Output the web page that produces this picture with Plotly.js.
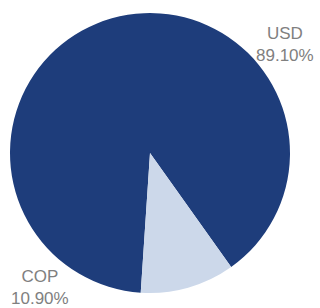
<!DOCTYPE html>
<html>
<head>
<meta charset="utf-8">
<script src="https://cdn.plot.ly/plotly-3.0.1.min.js"></script>
<style>html,body{margin:0;padding:0;background:#fff;}#chart{width:320px;height:308px;}</style>
</head>
<body>
<div id="chart"></div>
<script>
const currencies = ["USD", "COP"];
const shares = [89.10, 10.90];
const sliceColors = ["#1e3d7b", "#ccd8ea"];
const labelPos = [[0.982, 0.889], [0.107, 0.020]];

const annotations = currencies.map((c, i) => ({
  xref: "paper", yref: "paper",
  x: labelPos[i][0], y: labelPos[i][1],
  xanchor: "center", yanchor: "middle",
  text: c + "<br>" + shares[i].toFixed(2) + "%",
  showarrow: false,
  font: {family: "Liberation Sans, Arial, sans-serif", size: 17, color: "#808080"}
}));

Plotly.newPlot("chart", [{
  type: "pie",
  labels: currencies,
  values: shares,
  sort: false,
  direction: "counterclockwise",
  rotation: 183.8,
  marker: {colors: sliceColors, line: {width: 0}},
  textinfo: "none",
  hoverinfo: "label+percent"
}], {
  width: 320, height: 308,
  margin: {l: 10, r: 30, t: 13, b: 15},
  showlegend: false,
  paper_bgcolor: "#fff",
  annotations: annotations
}, {displayModeBar: false, staticPlot: true});
</script>
</body>
</html>
